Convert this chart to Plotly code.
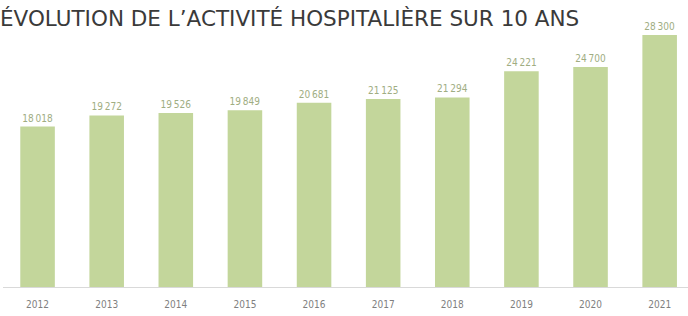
import plotly.graph_objects as go

years = ["2012", "2013", "2014", "2015", "2016", "2017", "2018", "2019", "2020", "2021"]
activity = [18018, 19272, 19526, 19849, 20681, 21125, 21294, 24221, 24700, 28300]
labels = [f"{v:,}".replace(",", "\u2009") for v in activity]

fig = go.Figure(go.Bar(
    x=years,
    y=activity,
    text=labels,
    textposition="outside",
    texttemplate="%{text}",
    textfont=dict(family="DejaVu Sans Condensed, DejaVu Sans", size=10, color="#a0ad82"),
    marker=dict(color="#c3d69b", line=dict(width=0)),
    width=0.5,
    cliponaxis=False,
    hoverinfo="skip",
))

fig.update_layout(
    width=688, height=316,
    margin=dict(l=3, r=0, t=20, b=29),
    paper_bgcolor="white", plot_bgcolor="white",
    showlegend=False,
    title=dict(
        text="ÉVOLUTION DE L’ACTIVITÉ HOSPITALIÈRE SUR 10 ANS",
        x=0, xref="container", xanchor="left",
        y=1 - 18 / 316, yref="container", yanchor="middle",
        font=dict(family="DejaVu Sans", size=21.5, color="#3a3a3a"),
        pad=dict(l=0, t=0, b=0, r=0),
    ),
    xaxis=dict(
        type="category", range=[-0.5, 9.41],
        showgrid=False, showline=True, linecolor="#d9d9d9", linewidth=1,
        ticks="", tickfont=dict(family="DejaVu Sans Condensed, DejaVu Sans", size=10, color="#7f7f7f"),
        ticklabelstandoff=8,
    ),
    yaxis=dict(range=[0, 29983], visible=False, showgrid=False, zeroline=False),
)

fig.write_html(
    "out.html",
    config={"displayModeBar": False, "staticPlot": True},
    post_script="document.body.style.margin='0';document.body.style.overflow='hidden';",
)
